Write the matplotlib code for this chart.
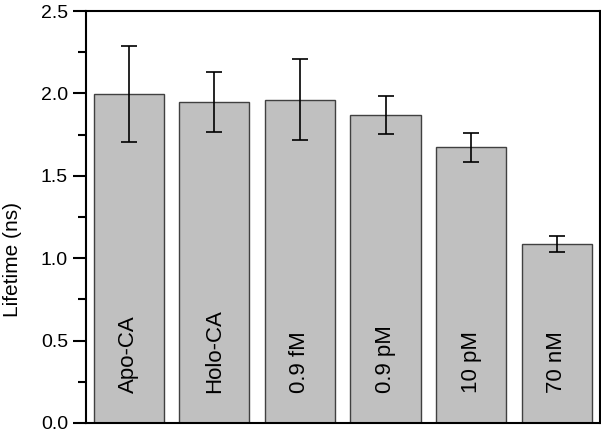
import matplotlib.pyplot as plt
from matplotlib.ticker import MultipleLocator

plt.rcParams['font.family'] = ['Liberation Sans', 'DejaVu Sans']

# Daten
proben = ["Apo-CA", "Holo-CA", "0.9 fM", "0.9 pM", "10 pM", "70 nM"]
lifetime = [1.996, 1.948, 1.962, 1.867, 1.673, 1.086]
fehler = [0.293, 0.183, 0.245, 0.115, 0.087, 0.050]

fig = plt.figure(figsize=(6.01, 4.30), dpi=100)
ax = fig.add_axes([0.1431, 0.0163, 0.8545, 0.9581])

x = list(range(len(proben)))
ax.bar(x, lifetime, width=0.82, color="#c0c0c0", edgecolor="#404040", linewidth=1.0, zorder=2)
ax.errorbar(x, lifetime, yerr=fehler, fmt="none", ecolor="black", elinewidth=1.2,
            capsize=6, capthick=1.2, zorder=3)

# Beschriftung in den Balken
for xi, name in zip(x, proben):
    ax.text(xi, 0.18, name, rotation=90, ha="center", va="bottom", fontsize=16, zorder=4)

ax.set_xlim(-0.5, 5.5)
ax.set_ylim(0, 2.5)
ax.yaxis.set_major_locator(MultipleLocator(0.5))
ax.yaxis.set_minor_locator(MultipleLocator(0.25))
ax.set_xticks([])
ax.tick_params(axis="y", which="major", length=9.5, width=1.5, labelsize=14, direction="out")
ax.tick_params(axis="y", which="minor", length=6, width=1.5, direction="out")
for sp in ax.spines.values():
    sp.set_linewidth(1.5)
ax.set_ylabel("Lifetime (ns)", fontsize=15)
ax.yaxis.set_label_coords(-0.125, 0.398)

fig.savefig("out.png", dpi=100)
